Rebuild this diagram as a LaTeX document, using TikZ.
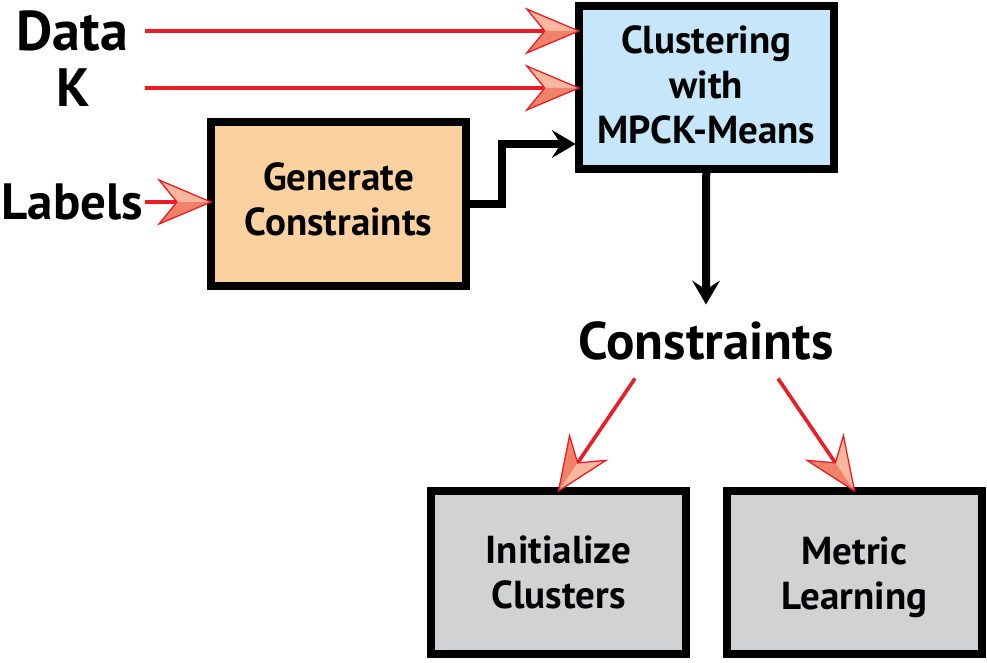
\documentclass[tikz,border=0pt]{standalone}
\usepackage{fontspec}
\setmainfont{PT Sans}
\usetikzlibrary{arrows.meta,calc}
\definecolor{arrowred}{HTML}{ED1C24}
\definecolor{salmonL}{HTML}{F9B79D}
\definecolor{salmonD}{HTML}{F0826A}
\definecolor{boxblue}{HTML}{C5E7F9}
\definecolor{boxorange}{HTML}{FBD1A0}
\definecolor{boxgray}{HTML}{D1D2D4}
\pgfdeclarearrow{
  name=Salmon,
  setup code={
    \pgfarrowssettipend{0pt}
    \pgfarrowssetlineend{-33pt}
    \pgfarrowssetbackend{-52pt}
    \pgfarrowshullpoint{0pt}{0pt}
    \pgfarrowsupperhullpoint{-52pt}{22pt}
  },
  drawing code={
    \pgfsetlinewidth{1.3pt}
    \pgfsetmiterjoin
    \pgfsetfillcolor{salmonL}
    \pgfpathmoveto{\pgfpointorigin}
    \pgfpathlineto{\pgfpoint{-52pt}{22pt}}
    \pgfpathlineto{\pgfpoint{-34pt}{0pt}}
    \pgfpathclose
    \pgfusepathqfill
    \pgfsetfillcolor{salmonD}
    \pgfpathmoveto{\pgfpointorigin}
    \pgfpathlineto{\pgfpoint{-52pt}{-22pt}}
    \pgfpathlineto{\pgfpoint{-34pt}{0pt}}
    \pgfpathclose
    \pgfusepathqfill
    \pgfsetstrokecolor{arrowred}
    \pgfpathmoveto{\pgfpointorigin}
    \pgfpathlineto{\pgfpoint{-52pt}{22pt}}
    \pgfpathlineto{\pgfpoint{-34pt}{0pt}}
    \pgfpathlineto{\pgfpoint{-52pt}{-22pt}}
    \pgfpathclose
    \pgfusepathqstroke
  }
}
\pgfdeclarearrow{
  name=BlackTip,
  setup code={
    \pgfarrowssettipend{0pt}
    \pgfarrowssetlineend{-14pt}
    \pgfarrowssetbackend{-24pt}
    \pgfarrowshullpoint{0pt}{0pt}
    \pgfarrowsupperhullpoint{-24pt}{14pt}
  },
  drawing code={
    \pgfsetfillcolor{black}
    \pgfpathmoveto{\pgfpointorigin}
    \pgfpathlineto{\pgfpoint{-24pt}{14pt}}
    \pgfpathlineto{\pgfpoint{-15pt}{0pt}}
    \pgfpathlineto{\pgfpoint{-24pt}{-14pt}}
    \pgfpathclose
    \pgfusepathqfill
  }
}
\begin{document}
\begin{tikzpicture}[x=1pt,y=-1pt,
  box/.style={draw=black, line width=8pt, minimum width=255pt, minimum height=163pt,
    outer sep=0pt, inner sep=0pt, line join=miter},
  boxtxt/.style={inner sep=0pt, align=center,
    font=\bfseries\fontsize{39pt}{45pt}\selectfont},
  lbl/.style={inner sep=0pt, font=\bfseries\fontsize{54pt}{54pt}\selectfont},
  redarrow/.style={draw=arrowred, line width=3.6pt, -{Salmon}},
  blkarrow/.style={draw=black, line width=8pt, -{BlackTip}, line join=miter}]
\useasboundingbox (0,0) rectangle (987,663);
\fill[white] (0,0) rectangle (987,663);

\node[box, fill=boxblue] (clust) at (706.25,88) {};
\node[box, fill=boxorange] (gen) at (338.5,204) {};
\node[box, fill=boxgray] (init) at (558.5,572.5) {};
\node[box, fill=boxgray] (metric) at (854.5,572.5) {};

\node[boxtxt] (clustT) at ([yshift=3pt]clust.center) {Clustering\\with\\MPCK-Means};
\node[boxtxt] (genT) at ([yshift=5pt]gen.center) {Generate\\Constraints};
\node[boxtxt] (initT) at (init.center) {Initialize\\Clusters};
\node[boxtxt] (metricT) at ([yshift=-4.5pt]metric.center) {Metric\\Learning};

\node[lbl, anchor=east, font=\bfseries\fontsize{56pt}{56pt}\selectfont] (data) at (128,31) {Data};
\node[lbl] (k) at (73.5,88) {K};
\node[lbl, anchor=east, font=\bfseries\fontsize{51pt}{51pt}\selectfont] (labels) at (143,202) {Labels};
\node[inner sep=0pt, font=\bfseries\fontsize{53pt}{53pt}\selectfont] (cons) at (706,341) {Constraints};

\draw[redarrow] ([xshift=17pt]data.east) -- (data.east -| clust.west);
\draw[redarrow] ([xshift=55pt]k.east) -- (k.east -| clust.west);
\draw[redarrow] ([xshift=2pt]labels.east) -- (labels.east -| gen.west);
\draw[blkarrow, shorten >=3pt] (gen.east) -- ++(36,0) |- ([yshift=-56pt]clust.west);
\draw[blkarrow] (clust.south) -- ([yshift=17pt]cons.north);
\draw[redarrow] ([shift={(-71pt,-18pt)}]cons.south) -- (init.north);
\draw[redarrow] ([shift={(72pt,-18pt)}]cons.south) -- (metric.north);
\end{tikzpicture}
\end{document}
